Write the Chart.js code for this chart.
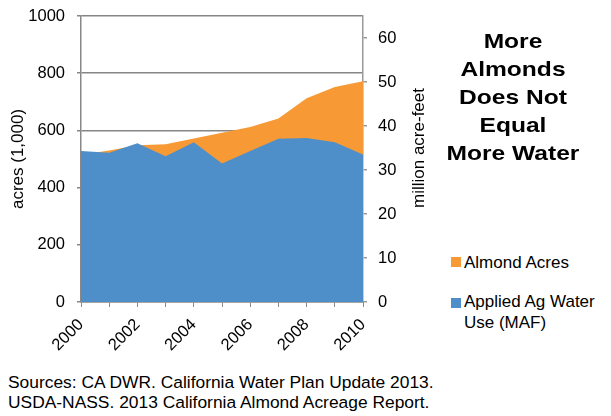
<!DOCTYPE html>
<html>
<head>
<meta charset="utf-8">
<script src="https://cdn.jsdelivr.net/npm/chart.js@4.4.1/dist/chart.umd.min.js"></script>
<style>
  body { margin: 0; background: #fff; font-family: "Liberation Sans", Arial, sans-serif; color: #000; }
  #wrap { position: relative; width: 611px; height: 416px; overflow: hidden; }
  #chartBox { position: absolute; left: 0; top: 0; width: 440px; height: 362px; }
  .headline { position: absolute; left: 420px; top: 27px; width: 186px; text-align: center;
    font-weight: bold; font-size: 21px; line-height: 28px; transform: scaleX(1.17); }
  .key { position: absolute; width: 10px; height: 10px; }
  .keyText { position: absolute; left: 464px; font-size: 17px; line-height: 21px; white-space: nowrap; }
  .source { position: absolute; left: 8px; top: 372px; font-size: 17.4px; line-height: 20px; white-space: nowrap; }
</style>
</head>
<body>
<div id="wrap">
  <div id="chartBox"><canvas id="almondChart"></canvas></div>
  <div class="headline">More<br>Almonds<br>Does Not<br>Equal<br>More Water</div>
  <div class="key" style="left:451px; top:257px; background:#F79A35;"></div>
  <div class="keyText" style="top:252px;">Almond Acres</div>
  <div class="key" style="left:451px; top:298px; background:#4E8FCA;"></div>
  <div class="keyText" style="top:291px;">Applied Ag Water<br>Use (MAF)</div>
  <div class="source">Sources: CA DWR. California Water Plan Update 2013.<br>USDA-NASS. 2013 California Almond Acreage Report.</div>
</div>
<script>
const years = ['2000', '2001', '2002', '2003', '2004', '2005', '2006', '2007', '2008', '2009', '2010'];
const almondAcres = [515, 530, 548, 552, 572, 592, 612, 642, 712, 752, 772]; // thousand acres
const waterUse = [34.3, 33.9, 36.1, 33.1, 36.3, 31.5, 34.3, 37.1, 37.3, 36.3, 33.5]; // million acre-feet

const FONT = '"Liberation Sans", Arial, sans-serif';

// right axis title reads bottom-to-top, so draw it by hand
const rightTitle = {
    id: 'rightTitle',
    afterDraw(chart) {
        const ctx = chart.ctx;
        ctx.save();
        ctx.translate(419, 148);
        ctx.rotate(-Math.PI / 2);
        ctx.font = '17px ' + FONT;
        ctx.fillStyle = '#000';
        ctx.textAlign = 'center';
        ctx.textBaseline = 'middle';
        ctx.fillText('million acre-feet', 0, 0);
        ctx.restore();
    },
};

const ctx = document.getElementById('almondChart').getContext('2d');
new Chart(ctx, {
    type: 'line',
    data: {
        labels: years,
        datasets: [{
            label: 'Almond Acres',
            data: almondAcres,
            yAxisID: 'y',
            backgroundColor: '#F79A35',
            borderWidth: 0,
            pointRadius: 0,
            fill: 'origin',
            order: 1, // drawn behind the water area
        }, {
            label: 'Applied Ag Water Use (MAF)',
            data: waterUse,
            yAxisID: 'y2',
            backgroundColor: '#4E8FCA',
            borderWidth: 0,
            pointRadius: 0,
            fill: 'origin',
            order: 0,
        }],
    },
    options: {
        responsive: true,
        maintainAspectRatio: false,
        animation: false,
        layout: { padding: { top: 16, left: 0, right: 0, bottom: 0 } },
        plugins: {
            legend: { display: false },
            tooltip: { enabled: false },
        },
        scales: {
            x: {
                afterFit: (s) => { s.height = 60; },
                grid: { drawOnChartArea: false, drawTicks: true, tickLength: 5, color: '#888' },
                border: { display: true, color: '#888', width: 1.5 },
                ticks: {
                    autoSkip: false,
                    maxRotation: 45,
                    minRotation: 45,
                    padding: 8,
                    color: '#000',
                    font: { family: FONT, size: 16.5 },
                    callback: (v, i) => (i % 2 === 0 ? years[i] : ''),
                },
            },
            y: {
                position: 'left',
                min: 0,
                max: 1000,
                afterFit: (s) => { s.width = 81; s.paddingTop = 0; },
                ticks: {
                    stepSize: 200,
                    padding: 12,
                    color: '#000',
                    font: { family: FONT, size: 16.5 },
                    callback: (v) => String(v),
                },
                grid: { color: '#868686', lineWidth: 1.5, tickLength: 4 },
                border: { display: true, color: '#888', width: 1.5 },
                title: {
                    display: true,
                    text: 'acres (1,000)',
                    color: '#000',
                    font: { family: FONT, size: 17 },
                    padding: { top: 8, bottom: 0 },
                },
            },
            y2: {
                position: 'right',
                min: 0,
                max: 65,
                afterFit: (s) => { s.width = 77; s.paddingTop = 0; },
                afterBuildTicks: (s) => { s.ticks = s.ticks.filter((t) => t.value <= 60); },
                ticks: { stepSize: 10, padding: 11, color: '#000', font: { family: FONT, size: 16.5 } },
                grid: { drawOnChartArea: false, color: '#999', lineWidth: 1.5, tickLength: 4 },
                border: { display: true, color: '#999', width: 1.5 },
            },
        },
    },
    plugins: [rightTitle],
});
</script>
</body>
</html>
